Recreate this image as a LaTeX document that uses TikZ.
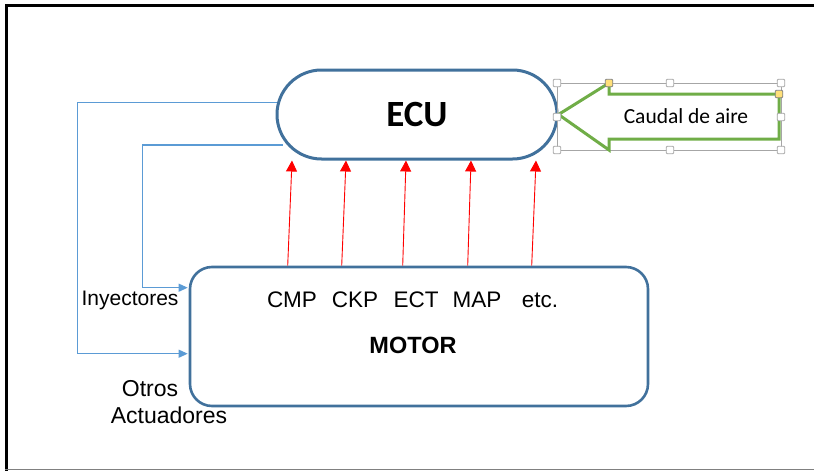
\documentclass[tikz,border=0pt]{standalone}
\usepackage{fontspec}
\setmainfont{Liberation Sans}
\newfontfamily\carlito{Carlito}
\usetikzlibrary{shapes.misc,arrows.meta,calc}
\definecolor{ecublue}{HTML}{41719C}
\definecolor{linkblue}{HTML}{5B9BD5}
\definecolor{airgreen}{HTML}{70AD47}
\definecolor{handlegray}{HTML}{A6A6A6}
\definecolor{handleyellow}{HTML}{FFE07A}
\tikzset{
  blockline/.style={draw=ecublue, line width=3},
  sensorarrow/.style={draw=red, line width=0.9, -{Triangle[length=11pt,width=11pt]}},
  actarrow/.style={draw=linkblue, line width=1.1, -{Triangle[length=9pt,width=8pt]}},
  handle/.style={draw=handlegray, fill=white, rounded corners=1, minimum size=7.5, inner sep=0, line width=0.8},
  yhandle/.style={handle, fill=handleyellow, draw=gray},
  lbl/.style={font=\fontsize{23}{27}\selectfont, inner sep=0},
  sens/.style={font=\fontsize{22.5}{26}\selectfont, inner sep=0}
}
\begin{document}
\begin{tikzpicture}[x=1pt,y=-1pt]
\useasboundingbox (0,0) rectangle (814,471);
% frame
\draw[black, line width=3] (6.5,471) -- (6.5,5.5) -- (814,5.5);
\draw[gray, line width=1.5] (5,469.5) -- (814,469.5);

% ECU
\node[rounded rectangle, blockline, fill=white, minimum width=280, minimum height=89, inner sep=0]
  (ECU) at (417,114.5) {\carlito\bfseries\fontsize{37}{41}\selectfont ECU};

% MOTOR
\node[blockline, line width=2.6, rounded corners=22, minimum width=458, minimum height=139, inner sep=0]
  (MOTOR) at (419,336.5) {};
\node[sens] (cmp) at (292,300) {CMP};
\node[sens] (ckp) at (355,300) {CKP};
\node[sens] (ect) at (416,300) {ECT};
\node[sens] (map) at (477,300) {MAP};
\node[sens] (etc) at (540,300) {etc.};
\node[sens, font=\bfseries\fontsize{23.5}{27}\selectfont] (mot) at (413,345) {MOTOR};

% sensor arrows
\draw[sensorarrow] ($(MOTOR.north west)+(99,0)$) -- ($(ECU.south)+(-125,0)$);
\draw[sensorarrow] ($(MOTOR.north west)+(153,0)$) -- ($(ECU.south)+(-71,0)$);
\draw[sensorarrow] ($(MOTOR.north west)+(214,0)$) -- ($(ECU.south)+(-11,0)$);
\draw[sensorarrow] ($(MOTOR.north west)+(279,0)$) -- ($(ECU.south)+(54,0)$);
\draw[sensorarrow] ($(MOTOR.north west)+(343,0)$) -- ($(ECU.south)+(119,0)$);

% actuator lines
\coordinate (m1) at ($(MOTOR.north west)+(-1,22)$);
\coordinate (m2) at ($(MOTOR.north west)+(-1,88)$);
\draw[actarrow] ($(ECU.west)+(1,-12)$) -- ++(-199,0) |- (m2);
\draw[actarrow] ($(ECU.west)+(7,30.5)$) -- ++(-140,0) |- (m1);
\node[lbl, font=\fontsize{21}{25}\selectfont] (iny) at (130,300) {Inyectores};
\node[lbl] (otr) at (150,389) {Otros};
\node[lbl] (act) at (169,415) {Actuadores};

% air flow arrow with selection frame
\draw[handlegray, line width=0.8] (557,83) rectangle (781,150);
\draw[airgreen, line width=3, line join=miter, fill=white]
  (ECU.east) -- (609,83) -- (609,94) -- (779,94) -- (779,139) -- (609,139) -- (609,150) -- cycle;
\node[inner sep=0] (air) at (686,116.5) {\carlito\fontsize{21.5}{25}\selectfont Caudal de aire};
\node[handle] (h1) at (557,83) {};
\node[handle] (h2) at (670,83) {};
\node[handle] (h3) at (781,83) {};
\node[handle] (h4) at (557,117) {};
\node[handle] (h5) at (781,117) {};
\node[handle] (h6) at (557,150) {};
\node[handle] (h7) at (670,150) {};
\node[handle] (h8) at (781,150) {};
\node[yhandle] (y1) at (609,83) {};
\node[yhandle] (y2) at (779,94) {};
\end{tikzpicture}
\end{document}
